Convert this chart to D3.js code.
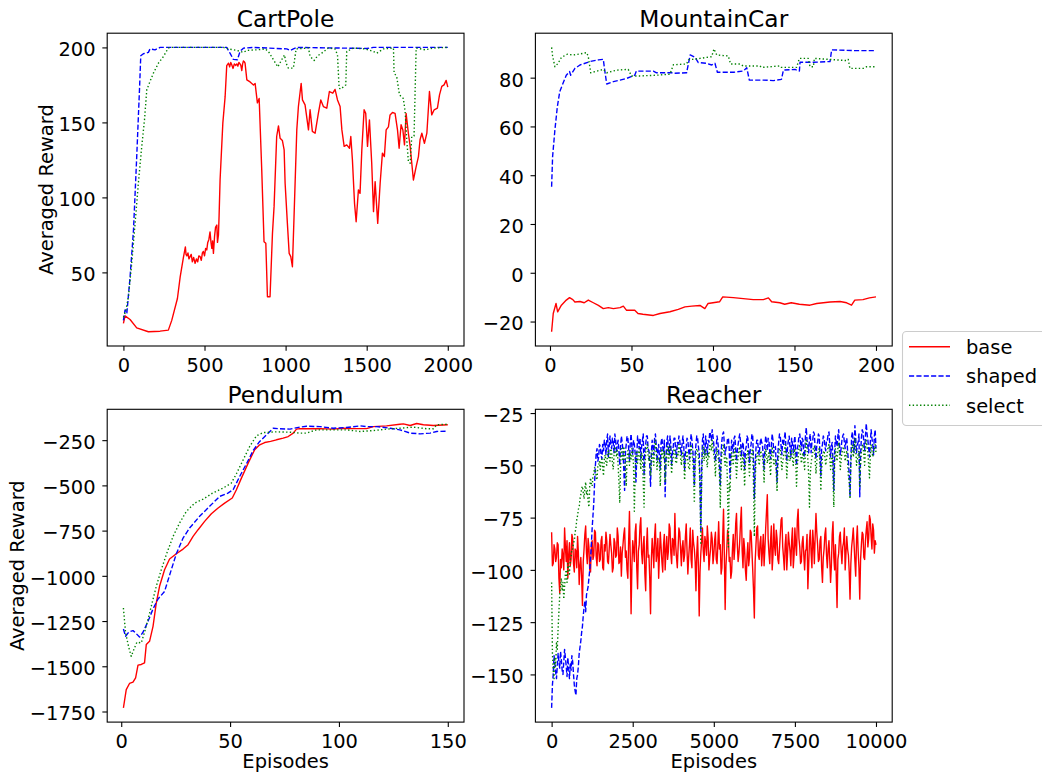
<!DOCTYPE html>
<html><head><meta charset="utf-8">
<script src="https://cdn.jsdelivr.net/npm/d3@7"></script>
<style>
body{margin:0;background:#fff}
svg{display:block}
text{font-family:"DejaVu Sans",sans-serif;fill:#000}
</style>
</head><body>
<svg id="chart" width="1042" height="774"></svg>
<script>
// ---------------- DATA ----------------
const seriesNames = ["base", "shaped", "select"];
const seriesColors = ["#ff0000", "#0000ff", "#008000"];

// CartPole: [episode, reward]
const cartpoleBase = [[0,16],[10,21],[41,18.6],[82,13],[154,10.4],[226,10.8],[277,11.5],[298,18],[333,32.6],[350,47],[370,60],[382,67],[386,62],[391,61],[398,63],[404,59],[411,60.5],[418,62],[425,57],[433,60],[442,56],[450,59],[458,57],[465,61],[473,60.5],[480,58],[487,63],[493,64],[500,61],[507,66],[514,65],[520,70],[527,72],[534,77],[540,70],[545,66],[550,71],[555,62.7],[562,74],[568,80],[576,81.6],[580,70],[586,75],[590,88],[596,111.6],[613,149.5],[627,167],[637,187.8],[648,189.5],[655,187],[662,190],[668,188.4],[676,186],[684,189],[692,188],[699,189],[706,187.5],[712,190],[719,189],[724,188],[730,184.6],[735,189],[740,191],[745,190.5],[750,189.5],[761,178.4],[781,177],[802,175],[812,176],[826,163],[837,166],[853,118],[867,70.5],[878,69.4],[888,33.8],[904,33.8],[919,76],[929,94],[945,140.6],[956,147.7],[966,139.5],[980,138],[991,131.7],[997,109.4],[1011,82.7],[1022,62.7],[1032,60.5],[1042,53.8],[1052,87],[1069,145],[1079,160.6],[1096,176],[1104,165],[1120,161.7],[1141,145],[1151,158.4],[1165,144],[1182,142.8],[1202,156],[1217,165],[1233,160.6],[1254,159.5],[1270,170.6],[1291,169.5],[1305,172],[1320,165],[1336,160.6],[1347,145],[1361,134],[1377,135],[1394,132.8],[1402,140.6],[1412,125],[1425,96],[1435,83.8],[1449,105],[1459,102.7],[1470,131.7],[1484,158.4],[1494,156],[1505,134],[1517,151.7],[1531,122.8],[1542,90.5],[1552,110.5],[1568,82.7],[1583,109.4],[1597,129.5],[1609,127.2],[1620,145],[1634,147],[1644,155],[1659,156.6],[1675,156],[1690,145],[1700,132.8],[1712,148.4],[1723,145],[1733,135],[1743,156],[1757,142.8],[1768,134],[1778,122.8],[1788,111.6],[1805,120.5],[1819,127.2],[1829,138.4],[1840,142.8],[1856,136],[1871,142.8],[1887,170.6],[1901,155],[1916,158.4],[1936,159.5],[1949,168.4],[1963,174],[1977,175],[1990,178],[2000,173.5]];
const cartpoleShaped = [[0,18],[10,25],[21,22.6],[41,47],[62,78],[82,127],[99,171.7],[107,194.4],[123,195.8],[154,196.7],[164,199],[195,198.4],[226,200],[637,200],[658,196],[678,192],[703,191.8],[719,197.3],[740,199.5],[802,200],[1007,199],[1028,198],[1048,199],[1069,200],[1500,199.3],[1542,200],[2000,200]];
const cartpoleSelect = [[0,20],[16,25],[31,33.8],[51,56],[72,82.7],[92,109.4],[113,134],[130,151.7],[144,171.7],[164,177.3],[185,182.9],[216,189.5],[247,194],[277,199.6],[298,200],[617,200],[648,199],[699,198],[740,196.7],[761,198],[822,198.4],[874,199],[894,197.3],[925,191.8],[952,187],[976,191.8],[993,195],[1003,189.5],[1017,186.2],[1048,186.2],[1065,199],[1141,199.6],[1151,194],[1176,191.3],[1197,194.4],[1223,196.2],[1264,199.6],[1305,199],[1320,195],[1330,172.8],[1340,172.2],[1371,175],[1377,197.3],[1418,199.6],[1490,199],[1542,197.3],[1562,196.2],[1603,199],[1665,199.6],[1669,182.9],[1685,180.6],[1702,168.4],[1726,166],[1737,157.3],[1747,138.4],[1757,124],[1768,122.8],[1778,140.6],[1792,141],[1805,199.6],[1860,198.4],[1912,199.6],[2000,200]];

// MountainCar
const mountainBase = [[1,-24.2],[2,-16.7],[3.7,-12.6],[4.7,-16],[7,-13.3],[10,-11.2],[12,-10.2],[14,-11],[15.3,-12],[18.4,-11.8],[21,-12.3],[23.5,-11.2],[26.6,-12.3],[29.7,-13.4],[32.7,-14.7],[35.8,-14.3],[38.9,-14.7],[43,-14.3],[45,-13.7],[47,-15.4],[52,-15.4],[54,-16.7],[57,-17],[63.4,-17.5],[67.5,-16.7],[73.6,-16],[78.7,-15],[82.8,-14],[87,-13.7],[92,-13.4],[95,-14.7],[97,-12.6],[100,-12.3],[104,-11.9],[106,-9.9],[112.5,-10.2],[118.6,-10.6],[124.7,-11],[130.9,-11],[134,-10.3],[136,-11.9],[141,-12.3],[144,-12.9],[148,-12.3],[153,-12.9],[159.5,-13.3],[163.6,-12.6],[171.8,-12],[178,-11.8],[182,-12.3],[185,-13.3],[187,-11.2],[192,-11],[196,-10.3],[200,-9.9]];
const mountainShaped = [[1,35.3],[1.6,47.6],[3,58.5],[4.5,68],[6,74.3],[8,77.7],[10,81],[12,82.5],[12.7,81],[15.3,83.8],[18.4,85.2],[24.5,86.6],[29.7,87.3],[32.7,87.5],[33.7,82.5],[34.8,77.4],[38.9,78.4],[43,79],[47,79.7],[52,81],[53,82.7],[63.4,82.7],[65.4,82],[74.6,82],[75.7,81.8],[83.8,82],[86,89.3],[89,88.3],[91,86.2],[96,85.9],[99.2,85.2],[101.2,85.9],[102.7,82.2],[112.5,82.2],[118.6,82.7],[120.7,84.1],[122.3,79],[130.9,79],[137,78.8],[142,79.3],[143.2,83.1],[150.3,83.4],[153,82.7],[153.4,86.3],[161.6,86.3],[171.8,86.6],[172.8,91.4],[186,91.1],[200,91.1]];
const mountainSelect = [[1,92.4],[1.6,88.9],[3,84.5],[5,85.9],[7,88.3],[10.6,89.6],[14.3,89.3],[18.4,89.7],[22.5,90.3],[23.5,88.6],[25,82],[32.7,83.4],[34.8,82],[41,83.1],[48,83.4],[50,80.7],[55,80.7],[65.4,81],[73.6,81.4],[75.7,85.3],[83.8,85.6],[85,87.3],[92,87.9],[99.2,88.6],[100.6,91.8],[102.3,89.3],[109.4,88.9],[110.8,85.6],[116.6,85.6],[118.6,84.8],[128.8,84.8],[129.9,84.2],[141,84.8],[142,84.2],[151.3,84.2],[153,87.9],[158.5,87.9],[159.5,84.5],[161.6,84.5],[162.2,87.9],[182,87],[183,87.5],[184,83.8],[192.2,83.8],[194.3,84.5],[200,84.5]];

// Pendulum
const pendulumBase = [[1,-1730],[2.3,-1629],[3.8,-1595],[5.4,-1588],[6.6,-1564],[7.7,-1494],[9.2,-1490],[10.7,-1481],[11.5,-1380],[13,-1362],[14.6,-1279],[16.1,-1150],[17.6,-1058],[19.9,-966],[22.2,-907],[25.3,-878],[28.4,-852],[30.7,-828],[33,-782],[35.3,-745],[38.3,-699],[41.4,-657],[44.5,-625],[47.5,-598],[51,-570],[52.9,-524],[55.2,-460],[58.3,-377],[61.3,-303],[63.6,-276],[65.9,-263],[68.6,-257],[71.3,-248],[74.4,-239],[76.7,-230],[79,-211],[80.5,-189],[82,-186],[85.1,-187],[91.3,-186],[97.4,-189],[102,-184],[106.6,-186],[112.7,-186],[115.8,-175],[121.9,-171],[128,-162],[129.6,-160],[132.7,-169],[135.7,-158],[138.8,-165],[143.4,-169],[150,-165]];
const pendulumShaped = [[1,-1294],[2,-1334],[3.5,-1310],[5.4,-1303],[6.6,-1316],[8.4,-1338],[10,-1312],[12.3,-1251],[14.6,-1183],[16.9,-1128],[19.9,-1086],[23,-966],[25.3,-878],[28.4,-791],[31.4,-736],[36,-671],[40.6,-616],[45.2,-561],[49,-543],[51.4,-524],[54.4,-451],[57.5,-381],[60.6,-307],[63.6,-257],[66.7,-221],[69.8,-184],[72.9,-187],[77.5,-189],[82,-178],[85.1,-173],[91.3,-175],[97.4,-184],[103.5,-180],[109.7,-171],[112.7,-175],[117.3,-175],[123.5,-184],[128,-193],[132.7,-211],[137.3,-215],[141.9,-211],[144.9,-202],[150,-200]];
const pendulumSelect = [[1,-1178],[2,-1316],[3.5,-1398],[4.6,-1445],[6.1,-1398],[7.2,-1367],[9.2,-1371],[11.5,-1279],[13.8,-1168],[16.1,-1058],[18.4,-966],[20.7,-883],[23.8,-782],[26.8,-708],[29.9,-644],[33.7,-598],[37.6,-576],[41.9,-543],[46.8,-515],[50.6,-487],[52.9,-436],[56,-359],[59,-285],[62.1,-226],[65.2,-208],[68.3,-206],[71.3,-204],[77.5,-206],[82,-211],[85.1,-211],[89.7,-193],[97.4,-193],[103.5,-193],[109.7,-202],[115.8,-197],[121.9,-189],[128,-184],[134.2,-178],[140.3,-187],[143.4,-187],[144.9,-165],[150,-162]];

// Reacher: one value every 25 episodes, 0..10000
const reacherEpisodes = d3.range(0, 10001, 25);
const reacherBase = [
-82,-98,-97,-88,-90,-96,-94,-87,-88,-104,-111,-95,-99,-90,-93,-100,-80,-89,-96,-86,
-104,-93,-87,-98,-95,-83,-85,-97,-101,-90,-91,-99,-84,-92,-107,-98,-94,-103,-117,-96,
-90,-83,-79,-92,-97,-85,-89,-100,-101,-88,-86,-95,-93,-81,-82,-94,-98,-87,-88,-96,
-95,-86,-84,-99,-100,-88,-91,-82,-86,-96,-97,-90,-83,-88,-92,-101,-99,-85,-87,-94,
-93,-80,-84,-97,-96,-89,-103,-92,-88,-83,-80,-94,-91,-100,-104,-86,-72,-95,-121,-98,
-86,-90,-96,-82,-78,-99,-109,-91,-88,-79,-75,-92,-97,-88,-84,-102,-110,-89,-80,-94,
-93,-104,-121,-95,-85,-91,-99,-84,-78,-96,-92,-85,-104,-93,-82,-89,-96,-101,-88,-83,
-100,-91,-84,-95,-91,-78,-80,-92,-97,-85,-86,-93,-73,-88,-94,-99,-89,-80,-82,-90,
-98,-89,-86,-96,-93,-84,-78,-91,-102,-94,-88,-80,-95,-99,-81,-87,-90,-96,-110,-92,
-84,-98,-122,-101,-92,-86,-80,-91,-96,-84,-87,-93,-79,-85,-100,-94,-90,-82,-85,-97,
-93,-86,-82,-95,-97,-88,-77,-90,-88,-102,-99,-84,-71,-93,-119,-98,-90,-81,-84,-96,
-94,-104,-101,-90,-83,-95,-89,-78,-73,-88,-96,-92,-86,-77,-70,-91,-99,-85,-90,-100,
-105,-93,-87,-98,-94,-81,-82,-91,-100,-110,-123,-96,-88,-80,-79,-93,-95,-87,-84,-98,
-91,-83,-98,-90,-80,-72,-64,-85,-92,-97,-86,-79,-100,-93,-78,-89,-93,-81,-85,-95,
-97,-90,-83,-76,-75,-89,-94,-100,-88,-83,-100,-92,-82,-87,-91,-98,-86,-80,-99,-93,
-80,-88,-93,-76,-71,-85,-89,-97,-96,-87,-84,-93,-100,-91,-90,-83,-109,-98,-86,-81,
-92,-99,-81,-87,-97,-84,-73,-82,-88,-96,-95,-86,-84,-99,-106,-94,-90,-83,-80,-93,
-99,-90,-86,-95,-106,-98,-83,-77,-94,-100,-88,-103,-118,-95,-92,-84,-82,-91,-97,-89,
-87,-80,-100,-92,-84,-90,-93,-101,-114,-97,-89,-85,-80,-88,-96,-103,-86,-79,-91,-99,
-114,-95,-88,-82,-83,-94,-95,-86,-81,-77,-89,-85,-74,-76,-84,-90,-78,-81,-92,-86,
-88];
const reacherShaped = [
-166,-155,-150,-141,-145,-149,-152,-146,-140,-144,-147,-139,-143,-148,-150,-144,-138,-142,-146,-151,
-142,-147,-152,-145,-148,-141,-144,-150,-155,-158,-160,-152,-150,-146,-140,-137,-134,-130,-127,-122,
-118,-115,-120,-112,-110,-108,-104,-100,-95,-88,-80,-74,-68,-58,-50,-44,-42,-48,-46,-40,
-41,-45,-47,-40,-43,-38,-40,-45,-38,-35,-46,-41,-36,-40,-42,-37,-39,-44,-35,-38,
-44,-40,-38,-43,-50,-41,-36,-39,-43,-52,-62,-44,-40,-36,-37,-42,-48,-39,-35,-41,
-45,-38,-40,-44,-58,-46,-36,-39,-42,-37,-47,-41,-38,-35,-55,-43,-40,-36,-36,-42,
-43,-50,-60,-44,-38,-41,-45,-37,-35,-40,-48,-43,-40,-46,-52,-39,-37,-41,-44,-38,
-65,-48,-39,-36,-42,-45,-36,-40,-50,-44,-41,-37,-37,-43,-46,-39,-40,-36,-38,-42,
-45,-39,-36,-41,-52,-44,-41,-37,-38,-43,-47,-40,-35,-38,-42,-48,-60,-45,-40,-36,
-37,-41,-44,-58,-82,-52,-38,-35,-42,-45,-36,-40,-45,-38,-39,-34,-35,-38,-33,-36,
-40,-45,-48,-41,-36,-39,-43,-50,-60,-44,-38,-35,-34,-40,-45,-42,-41,-37,-37,-42,
-56,-45,-38,-41,-44,-37,-36,-42,-48,-43,-40,-37,-35,-39,-46,-41,-39,-44,-52,-43,
-41,-36,-37,-43,-49,-42,-40,-35,-36,-48,-66,-50,-42,-38,-38,-43,-45,-40,-37,-39,
-40,-46,-52,-41,-36,-39,-43,-37,-38,-44,-47,-40,-35,-38,-44,-42,-41,-50,-58,-44,
-39,-35,-36,-41,-45,-38,-40,-37,-34,-42,-48,-41,-38,-36,-42,-46,-37,-40,-44,-39,
-36,-43,-50,-42,-40,-36,-35,-39,-43,-37,-38,-45,-46,-36,-32,-38,-41,-44,-37,-35,
-44,-39,-38,-34,-35,-42,-47,-40,-39,-35,-36,-45,-55,-42,-40,-36,-37,-41,-43,-38,
-38,-35,-34,-40,-46,-41,-39,-48,-62,-44,-36,-39,-41,-36,-33,-40,-45,-42,-38,-36,
-35,-39,-42,-38,-37,-43,-48,-55,-65,-47,-36,-34,-40,-44,-31,-37,-44,-40,-39,-35,
-65,-45,-37,-33,-34,-39,-43,-36,-30,-35,-38,-42,-46,-39,-33,-37,-40,-45,-36,-33,
-42];
const reacherSelect = [
-106,-140,-148,-152,-142,-146,-135,-138,-128,-120,-112,-108,-104,-110,-106,-114,-108,-102,-100,-106,
-97,-100,-102,-95,-94,-90,-90,-87,-86,-82,-80,-76,-74,-71,-70,-66,-64,-61,-60,-63,
-66,-61,-58,-64,-62,-67,-70,-60,-56,-59,-60,-55,-54,-51,-52,-56,-57,-50,-50,-48,
-52,-48,-47,-51,-55,-47,-45,-49,-50,-44,-43,-47,-48,-42,-44,-49,-52,-45,-41,-44,
-46,-43,-50,-58,-68,-51,-42,-45,-48,-41,-45,-52,-60,-47,-43,-46,-50,-44,-47,-42,
-44,-50,-72,-55,-45,-43,-49,-45,-42,-47,-52,-44,-46,-58,-70,-50,-44,-41,-40,-45,
-48,-44,-55,-49,-43,-47,-50,-42,-38,-44,-52,-47,-46,-50,-60,-48,-42,-45,-47,-43,
-58,-48,-44,-41,-50,-45,-41,-47,-54,-48,-46,-42,-43,-49,-49,-44,-45,-40,-42,-46,
-50,-45,-44,-48,-57,-49,-46,-43,-48,-51,-52,-45,-40,-44,-47,-55,-68,-50,-45,-42,
-43,-46,-50,-62,-88,-60,-44,-41,-48,-45,-42,-47,-51,-44,-46,-40,-40,-43,-38,-42,
-45,-48,-55,-46,-42,-45,-48,-55,-70,-50,-44,-41,-40,-47,-50,-46,-46,-62,-89,-58,
-62,-50,-44,-47,-50,-44,-42,-48,-56,-49,-46,-43,-41,-46,-52,-48,-45,-50,-60,-49,
-47,-44,-43,-49,-55,-48,-46,-43,-42,-60,-84,-58,-48,-45,-44,-47,-50,-46,-43,-45,
-46,-50,-58,-47,-42,-45,-49,-46,-44,-50,-55,-46,-41,-45,-50,-48,-47,-53,-62,-50,
-45,-42,-42,-47,-52,-48,-46,-43,-40,-46,-56,-49,-44,-46,-48,-45,-43,-47,-50,-44,
-42,-48,-60,-50,-46,-42,-40,-45,-49,-46,-44,-48,-52,-43,-38,-42,-47,-55,-70,-54,
-49,-46,-44,-41,-41,-47,-54,-48,-45,-43,-42,-50,-62,-52,-46,-44,-43,-46,-50,-47,
-44,-41,-40,-46,-52,-48,-45,-56,-70,-50,-42,-45,-48,-42,-39,-44,-52,-48,-44,-42,
-41,-44,-48,-45,-43,-49,-55,-58,-66,-50,-42,-40,-46,-43,-37,-42,-50,-47,-45,-43,
-60,-50,-43,-41,-40,-45,-50,-42,-38,-41,-44,-50,-56,-46,-40,-43,-46,-44,-42,-40,
-44];

// Tick labels
const cartpoleXTicks = [0, 500, 1000, 1500, 2000];
const cartpoleYTicks = [50, 100, 150, 200];
const mountainXTicks = [0, 50, 100, 150, 200];
const mountainYTicks = [-20, 0, 20, 40, 60, 80];
const pendulumXTicks = [0, 50, 100, 150];
const pendulumYTicks = [-1750, -1500, -1250, -1000, -750, -500, -250];
const reacherXTicks = [0, 2500, 5000, 7500, 10000];
const reacherYTicks = [-150, -125, -100, -75, -50, -25];

const panelTitles = ["CartPole", "MountainCar", "Pendulum", "Reacher"];
const yLabel = "Averaged Reward";
const xLabel = "Episodes";

// ---------------- LAYOUT / STYLE ----------------
const FS = 19.44, TFS = 23.33;
const W = 356.8, H = 312.8;
const lefts = [107.2, 535.4], tops = [33.2, 409.3];
const styles = [
  {dash: null},
  {dash: "5.14,2.22"},
  {dash: "1.39,2.29"}
];
const LW = 1.39;

const zipXY = (xs, ys) => xs.map((x, i) => [x, ys[i]]).filter(d => d[1] !== undefined);

const panels = [
  {title: panelTitles[0], series: [cartpoleBase, cartpoleShaped, cartpoleSelect], xt: cartpoleXTicks, yt: cartpoleYTicks, col: 0, row: 0, ylab: true, xlab: false},
  {title: panelTitles[1], series: [mountainBase, mountainShaped, mountainSelect], xt: mountainXTicks, yt: mountainYTicks, col: 1, row: 0, ylab: false, xlab: false},
  {title: panelTitles[2], series: [pendulumBase, pendulumShaped, pendulumSelect], xt: pendulumXTicks, yt: pendulumYTicks, col: 0, row: 1, ylab: true, xlab: true},
  {title: panelTitles[3], series: [zipXY(reacherEpisodes, reacherBase), zipXY(reacherEpisodes, reacherShaped), zipXY(reacherEpisodes, reacherSelect)], xt: reacherXTicks, yt: reacherYTicks, col: 1, row: 1, ylab: false, xlab: true}
];

const svg = d3.select("#chart");
svg.append("rect").attr("width", 1042).attr("height", 774).attr("fill", "#fff");
const fmt = d3.format("d");

panels.forEach((p, pi) => {
  const left = lefts[p.col], top = tops[p.row];
  const g = svg.append("g").attr("transform", `translate(${left},${top})`);
  const allPts = p.series.flat();
  const [x0, x1] = d3.extent(allPts, d => d[0]);
  const [y0, y1] = d3.extent(allPts, d => d[1]);
  const mx = (x1 - x0) * 0.05, my = (y1 - y0) * 0.05;
  const x = d3.scaleLinear().domain([x0 - mx, x1 + mx]).range([0, W]);
  const y = d3.scaleLinear().domain([y0 - my, y1 + my]).range([H, 0]);

  const clipId = "clip" + pi;
  g.append("clipPath").attr("id", clipId).append("rect").attr("width", W).attr("height", H);

  const line = d3.line().x(d => x(d[0])).y(d => y(d[1]));
  const lg = g.append("g").attr("clip-path", `url(#${clipId})`);
  p.series.forEach((s, si) => {
    lg.append("path").datum(s).attr("d", line)
      .attr("fill", "none").attr("stroke", seriesColors[si])
      .attr("stroke-width", LW)
      .attr("stroke-linejoin", "round")
      .attr("stroke-dasharray", styles[si].dash);
  });

  // axes
  const xa = g.append("g").attr("transform", `translate(0,${H})`)
    .call(d3.axisBottom(x).tickValues(p.xt).tickFormat(fmt).tickSize(4.86).tickPadding(6.3));
  const ya = g.append("g")
    .call(d3.axisLeft(y).tickValues(p.yt).tickFormat(fmt).tickSize(4.86).tickPadding(6.8));
  [xa, ya].forEach(a => {
    a.select(".domain").remove();
    a.selectAll("line").attr("stroke", "#000").attr("stroke-width", 1.1);
    a.selectAll("text").attr("font-size", FS).attr("font-family", "DejaVu Sans").attr("fill", "#000");
  });
  xa.selectAll("text").attr("dy", null).attr("y", 25.7);
  ya.selectAll("text").attr("dy", "0.43em");

  // frame
  g.append("rect").attr("width", W).attr("height", H)
    .attr("fill", "none").attr("stroke", "#000").attr("stroke-width", 1.1);

  // title
  g.append("text").attr("x", W / 2).attr("y", -6.4).attr("text-anchor", "middle")
    .attr("font-size", TFS).text(p.title);

  if (p.ylab) {
    let minX = 0;
    ya.selectAll("text").each(function () {
      minX = Math.min(minX, this.getBBox().x);
    });
    const bx = minX - 5.56;
    g.append("text").attr("transform", `translate(${bx},${H / 2}) rotate(-90)`)
      .attr("text-anchor", "middle").attr("font-size", FS).text(yLabel);
  }
  if (p.xlab) {
    g.append("text").attr("x", W / 2).attr("y", H + 45.8).attr("text-anchor", "middle")
      .attr("font-size", FS).text(xLabel);
  }
});

// legend
const leg = svg.append("g").attr("transform", "translate(902,331)");
leg.append("rect").attr("x", 0.5).attr("y", 0.5).attr("width", 160).attr("height", 94).attr("rx", 4)
  .attr("fill", "#fff").attr("fill-opacity", 0.8).attr("stroke", "#cccccc").attr("stroke-width", 1.1);
seriesNames.forEach((n, i) => {
  const cy = 15.7 + i * 29.3;
  leg.append("line").attr("x1", 7).attr("x2", 48).attr("y1", cy).attr("y2", cy)
    .attr("stroke", seriesColors[i]).attr("stroke-width", LW).attr("stroke-dasharray", styles[i].dash);
  leg.append("text").attr("x", 64).attr("y", cy + 7.3).attr("font-size", FS).text(n);
});
</script>
</body></html>
